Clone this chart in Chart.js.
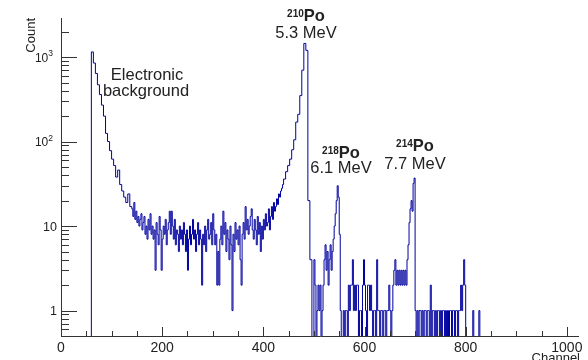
<!DOCTYPE html>
<html>
<head>
<meta charset="utf-8">
<script src="https://cdn.jsdelivr.net/npm/chart.js@4.4.0/dist/chart.umd.min.js"></script>
<style>
  html, body { margin: 0; padding: 0; background: #fff; }
</style>
</head>
<body>
<canvas id="spectrum" width="588" height="360"></canvas>
<script>
// electronic background: 4-channel bins from channel 56
const bgStart = 56, bgWidth = 4;
const countsBackground = [0, 1150, 850, 640, 470, 360, 270, 200, 125, 100, 78, 62, 52, 38, 46, 31, 26,
  22, 19, 24, 17];

// flat part: 2-channel bins from channel 140
const flatStart = 140, flatWidth = 2;
const countsFlat = [
  16, 13, 19, 12, 15, 11, 13, 10, 12, 14,
  9, 11, 13, 8, 10, 7, 12, 9, 14, 8,
  10, 7, 9, 3, 11, 8, 6, 13, 9, 3,
  7, 10, 8, 12, 6, 9, 11, 15, 8, 15,
  10, 7, 12, 6, 9, 8, 5, 10, 7, 9,
  6, 11, 8, 5, 9, 3, 7, 10, 6, 8,
  12, 7, 9, 5, 8, 11, 6, 9, 7, 2,
  8, 6, 10, 5, 9, 12, 7, 8, 11, 6,
  14, 9, 6, 8, 2, 5, 2, 7, 10, 6,
  15, 8, 11, 5, 9, 7, 4, 10, 6, 1,
  8, 5, 11, 7, 9, 6, 10, 4, 2, 8,
  11, 7, 17, 9, 12, 8, 10, 13, 16, 9,
  7, 12, 9, 6, 13, 8, 11, 5, 10, 7,
  12, 9, 14, 10, 11, 16, 9, 13, 17, 12,
  19, 15, 17, 21, 18, 24, 22, 26, 28, 31];

// 210Po peak: 4-channel bins from channel 440
const peakStart = 440, peakWidth = 4;
const countsPo210 = [36, 44, 52, 62, 80, 105, 170, 210, 350, 700, 1450, 1200, 20, 4, 0];

// 218Po / 214Po region: 2-channel bins from channel 500
const tailStart = 500, tailWidth = 2;
const countsTail = [
  4, 2, 0, 1, 2, 1, 2, 0, 1, 2,
  4, 6, 3, 5, 2, 4, 6, 3, 5, 7,
  10, 14, 20, 30, 22, 8, 1, 0, 0, 1,
  0, 1, 1, 0, 2, 1, 2, 2, 4, 1,
  2, 1, 2, 2, 0, 1, 1, 0, 2, 4,
  2, 1, 0, 2, 2, 1, 2, 1, 0, 1,
  1, 0, 4, 1, 1, 0, 1, 1, 0, 1,
  1, 0, 1, 1, 2, 1, 0, 1, 2, 3,
  4, 2, 3, 2, 3, 2, 3, 2, 3, 2,
  3, 2, 4, 6, 11, 16, 20, 15, 32, 37,
  1, 0, 1, 0, 1, 1, 0, 1, 0, 1,
  1, 0, 1, 1, 0, 2, 0, 1, 1, 0,
  1, 0, 1, 1, 0, 1, 0, 1, 1, 0,
  1, 0, 1, 0, 1, 1, 0, 1, 1, 0,
  1, 1, 0, 1, 1, 2, 1, 2, 4, 2,
  0, 0, 0, 0, 0, 0, 0, 1, 0, 0,
  0, 0, 0, 1, 0, 0];

const xTickLabels = [0, 200, 400, 600, 800, 1000];
const yDecades = [1, 10, 100, 1000];

const peakLabels = [
  { iso: "210", el: "Po", energy: "5.3 MeV", x: 306, y: 21, ey: 38 },
  { iso: "218", el: "Po", energy: "6.1 MeV", x: 341, y: 158, ey: 173 },
  { iso: "214", el: "Po", energy: "7.7 MeV", x: 415, y: 151, ey: 169 }
];

// one point per bin lower edge; empty bins go below the axis and get clipped
const points = [];
function addBins(start, width, counts) {
  counts.forEach((c, i) => points.push({ x: start + width * i, y: c > 0 ? c : 0.3 }));
}
addBins(bgStart, bgWidth, countsBackground);
addBins(flatStart, flatWidth, countsFlat);
addBins(peakStart, peakWidth, countsPo210);
addBins(tailStart, tailWidth, countsTail);
points.push({ x: tailStart + tailWidth * countsTail.length, y: 0.3 });

const FONT = "'Liberation Sans', Arial, Helvetica, sans-serif";
const TEXT = "#222";

const rootAxes = {
  id: "rootAxes",
  afterDraw(chart) {
    const { ctx, chartArea: a } = chart;
    const xs = chart.scales.x, ys = chart.scales.y;
    ctx.save();
    ctx.strokeStyle = "#333";
    ctx.lineWidth = 1;
    ctx.beginPath();
    ctx.moveTo(a.left + 0.5, a.top);
    ctx.lineTo(a.left + 0.5, a.bottom + 0.5);
    ctx.lineTo(a.right, a.bottom + 0.5);
    // x ticks, inward
    for (let v = 0; v <= 1000; v += 50) {
      const px = Math.round(xs.getPixelForValue(v)) + 0.5;
      const len = v % 200 === 0 ? 9 : 5;
      ctx.moveTo(px, a.bottom);
      ctx.lineTo(px, a.bottom - len);
    }
    // y ticks (log)
    for (let k = -1; k <= 3; k++) {
      for (let m = 1; m <= 9; m++) {
        const v = m * Math.pow(10, k);
        if (v < ys.min || v > ys.max) continue;
        const py = Math.round(ys.getPixelForValue(v)) + 0.5;
        const len = m === 1 ? 16 : 8;
        ctx.moveTo(a.left, py);
        ctx.lineTo(a.left + len, py);
      }
    }
    ctx.stroke();

    ctx.fillStyle = TEXT;
    // x labels
    ctx.font = "14px " + FONT;
    ctx.textAlign = "center";
    ctx.textBaseline = "alphabetic";
    xTickLabels.forEach(v => ctx.fillText(String(v), xs.getPixelForValue(v), 352));
    // y labels
    yDecades.forEach(v => {
      const py = ys.getPixelForValue(v);
      const exp = Math.round(Math.log10(v));
      if (exp <= 1) {
        ctx.font = "12.5px " + FONT;
        ctx.textAlign = "right";
        ctx.fillText(String(v), 57, py + 4.5);
      } else {
        ctx.font = "8.5px " + FONT;
        ctx.textAlign = "right";
        ctx.fillText(String(exp), 53, py - 1);
        const w = ctx.measureText(String(exp)).width;
        ctx.font = "12px " + FONT;
        ctx.fillText("10", 53 - w, py + 4.5);
      }
    });
    // axis titles
    ctx.font = "13px " + FONT;
    ctx.textAlign = "right";
    ctx.fillText("Channel", 580, 361.5);
    ctx.save();
    ctx.translate(35, 18);
    ctx.rotate(-Math.PI / 2);
    ctx.fillText("Count", 0, 0);
    ctx.restore();

    // annotations
    ctx.font = "16.5px " + FONT;
    ctx.textAlign = "center";
    ctx.fillText("Electronic", 147, 80);
    ctx.fillText("background", 146, 96);
    peakLabels.forEach(p => {
      ctx.font = "bold 16.5px " + FONT;
      const wEl = ctx.measureText(p.el).width;
      ctx.font = "bold 10px " + FONT;
      const wIso = ctx.measureText(p.iso).width;
      const left = p.x - (wEl + wIso) / 2;
      ctx.textAlign = "left";
      ctx.fillText(p.iso, left, p.y - 4);
      ctx.font = "bold 16.5px " + FONT;
      ctx.fillText(p.el, left + wIso, p.y);
      ctx.font = "16.5px " + FONT;
      ctx.textAlign = "center";
      ctx.fillText(p.energy, p.x, p.ey);
    });
    ctx.restore();
  }
};

new Chart(document.getElementById("spectrum"), {
  type: "line",
  data: {
    datasets: [{
      data: points,
      borderColor: "rgb(0, 0, 160)",
      borderWidth: 1,
      stepped: "before",
      fill: false,
      pointRadius: 0
    }]
  },
  options: {
    responsive: false,
    animation: false,
    devicePixelRatio: 1,
    layout: { padding: { left: 61, right: 9, top: 18, bottom: 24 } },
    plugins: { legend: { display: false }, tooltip: { enabled: false } },
    scales: {
      x: { type: "linear", min: 0, max: 1024, display: false },
      y: { type: "logarithmic", min: 0.5, max: 2900, display: false }
    }
  },
  plugins: [rootAxes]
});
</script>
</body>
</html>
